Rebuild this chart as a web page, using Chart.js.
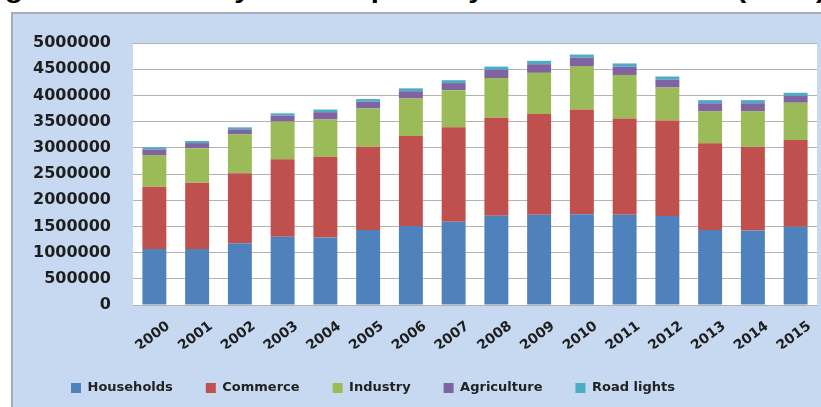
<!DOCTYPE html>
<html>
<head>
<meta charset="utf-8">
<script src="https://cdn.jsdelivr.net/npm/chart.js@4/dist/chart.umd.min.js"></script>
<style>
  html, body { margin: 0; padding: 0; background: #ffffff; overflow: hidden; }
  #wrap { position: relative; width: 821px; height: 407px; overflow: hidden; }
  #title {
    position: absolute; left: -21px; top: -24px;
    font: bold 26px "Liberation Sans", Arial, sans-serif; line-height: 26px;
    color: #000; white-space: nowrap;
    transform: scaleX(1.125); transform-origin: 0 0;
  }
  #frame {
    position: absolute; left: 11px; top: 12px; width: 830px; height: 420px;
    background: #c6d9f1; border: 2px solid #a6adb8;
  }
  #chart { position: absolute; left: 0; top: 0; }
</style>
</head>
<body>
<div id="wrap">
  <div id="title">Figure 2: Electricity consumption by sector 2000-2015 (MWh)</div>
  <div id="frame"></div>
  <canvas id="chart" width="821" height="407"></canvas>
</div>
<script>
// Years on the category axis
const years = ['2000','2001','2002','2003','2004','2005','2006','2007',
               '2008','2009','2010','2011','2012','2013','2014','2015'];

// Consumption per sector, MWh
const households  = [1069000, 1070000, 1177000, 1304000, 1290000, 1430000, 1510000, 1590000,
                     1705000, 1720000, 1730000, 1720000, 1700000, 1430000, 1420000, 1495000];
const commerce    = [1189000, 1265000, 1336000, 1476000, 1540000, 1590000, 1715000, 1800000,
                     1870000, 1925000, 2000000, 1840000, 1820000, 1655000, 1600000, 1655000];
const industry    = [ 604000,  655000,  744000,  720000,  710000,  730000,  715000,  710000,
                      755000,  785000,  830000,  830000,  630000,  615000,  680000,  710000];
const agriculture = [ 105000,  100000,   95000,  115000,  140000,  130000,  140000,  135000,
                      160000,  165000,  160000,  160000,  150000,  150000,  150000,  130000];
const roadLights  = [  42000,   40000,   38000,   43000,   50000,   50000,   55000,   55000,
                       60000,   65000,   60000,   60000,   60000,   60000,   60000,   60000];

// Value-axis range
const yMin = 0, yMax = 5000000, yStep = 500000;

// White plot area on the tinted frame
const plotBackground = {
  id: 'plotBackground',
  beforeDraw(chart) {
    const { ctx, chartArea: a } = chart;
    ctx.save();
    ctx.fillStyle = '#ffffff';
    ctx.fillRect(a.left, a.top, a.right - a.left, a.bottom - a.top);
    ctx.restore();
  }
};

// Legend row starts a little right of the value axis box
const legendIndent = {
  id: 'legendIndent',
  afterLayout(chart) {
    if (chart.legend) chart.legend.left = 38;
  }
};

const tickFont = { family: '"DejaVu Sans", sans-serif', size: 16, weight: 'bold' };
const xTickFont = { family: '"DejaVu Sans", sans-serif', size: 14, weight: 'bold' };

new Chart(document.getElementById('chart'), {
  type: 'bar',
  data: {
    labels: years,
    datasets: [
      { label: 'Households',  data: households,  backgroundColor: '#4f81bd' },
      { label: 'Commerce',    data: commerce,    backgroundColor: '#c0504d' },
      { label: 'Industry',    data: industry,    backgroundColor: '#9bbb59' },
      { label: 'Agriculture', data: agriculture, backgroundColor: '#8064a2' },
      { label: 'Road lights', data: roadLights,  backgroundColor: '#4bacc6' }
    ]
  },
  options: {
    responsive: false,
    animation: false,
    devicePixelRatio: 1,
    layout: { padding: { left: 25, right: 4, top: 43, bottom: 2.5 } },
    datasets: { bar: { categoryPercentage: 1, barPercentage: 0.56, borderWidth: 0 } },
    plugins: {
      tooltip: { enabled: false },
      legend: {
        position: 'bottom',
        align: 'start',
        labels: {
          boxWidth: 10, boxHeight: 10, padding: 33,
          color: '#222222',
          font: { family: '"DejaVu Sans", sans-serif', size: 13, weight: 'bold' }
        }
      }
    },
    scales: {
      x: {
        stacked: true,
        grid: { display: false, drawTicks: false },
        border: { display: false },
        ticks: {
          color: '#1e1e1e', font: xTickFont,
          maxRotation: 37, minRotation: 37, padding: 13, labelOffset: 14, autoSkip: false
        },
        afterFit(scale) { scale.height = 43.5; }
      },
      y: {
        stacked: true,
        min: yMin, max: yMax,
        grid: { color: '#b3b3b3', lineWidth: 1, drawTicks: false },
        border: { display: false },
        ticks: {
          stepSize: yStep, color: '#1e1e1e', font: tickFont, padding: 22,
          callback: (v) => String(v)
        },
        afterFit(scale) { scale.width = 108; }
      }
    }
  },
  plugins: [plotBackground, legendIndent]
});
</script>
</body>
</html>
